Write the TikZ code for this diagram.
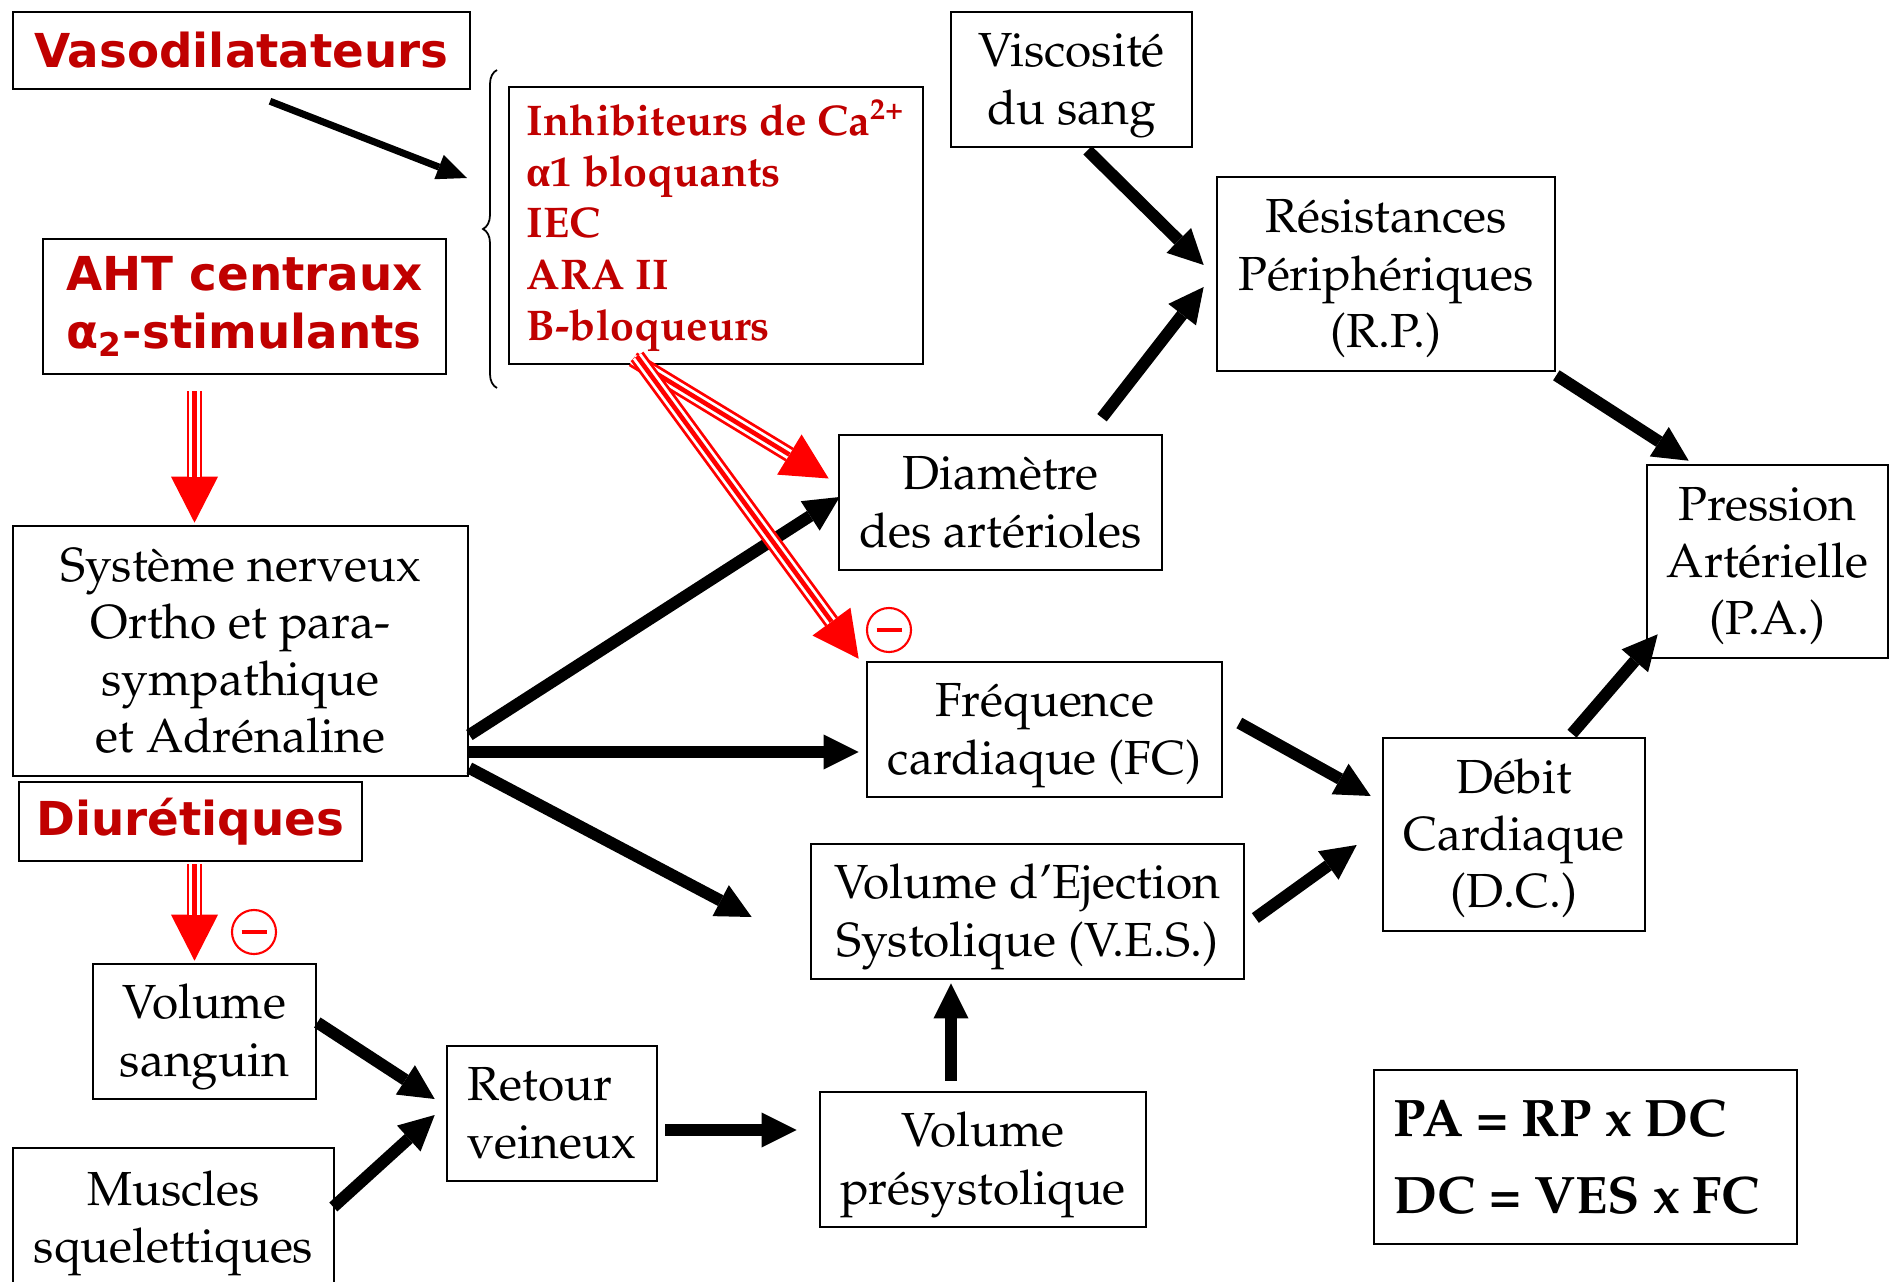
\documentclass[tikz,border=0pt]{standalone}
\usepackage[T1]{fontenc}
\usepackage[no-math]{fontspec}
\newfontfamily\drugfont{DejaVu Sans}
\newfontfamily\grkfont{Liberation Serif}
\usetikzlibrary{arrows.meta,calc,decorations.pathreplacing}
\definecolor{drugred}{RGB}{192,0,0}
\newcommand\palfont{\fontencoding{T1}\fontfamily{ppl}\selectfont}
% fixed first-line height and last-line depth, so the text sits at the same place in every box
\newcommand\boxlines[1]{\rule{0pt}{13.1pt}#1\rule[-4pt]{0pt}{4pt}}

\tikzset{
  box/.style={draw, line width=0.7pt, inner sep=0pt, align=center,
    font=\palfont\fontsize{13.6}{16.3}\selectfont},
  panel/.style={draw, line width=0.7pt, inner sep=0pt, align=left},
  drug/.style={draw, line width=0.7pt, inner sep=0pt, align=left, text=drugred,
    font=\drugfont\bfseries\fontsize{13.3}{16.5}\selectfont},
  flow/.style={line width=3.4pt, -{Triangle[length=0.35cm,width=0.35cm,line width=0pt]}},
  thinflow/.style={line width=2pt, -{Triangle[length=0.3cm,width=0.26cm,line width=0pt]}},
  block/.style={draw=red, line width=4.5pt, -{Triangle[length=0.46cm,width=0.47cm,line width=0pt]},
    postaction={draw=white, line width=2.9pt, -, shorten >=0.46cm},
    postaction={draw=red, line width=1.3pt, -, shorten >=0.46cm}},
  minuscircle/.style={circle, draw=red, line width=0.6pt, minimum size=0.44cm, inner sep=0pt,
    path picture={\draw[red, line width=0.9pt] ($(path picture bounding box.center)+(-12.5,0)$) -- ++(25,0);}}
}

\begin{document}
\begin{tikzpicture}[x=0.01cm, y=-0.01cm]
    \useasboundingbox (0,0) rectangle (1890,1282);

    % Left column
    \node[drug, minimum width=4.57cm, minimum height=0.77cm] (vaso) at (241.5,50.5) {Vasodilatateurs};
    \node[drug, minimum width=4.03cm, minimum height=1.35cm] (aht) at (244.5,306.5) {AHT centraux\\α\textsubscript{2}-stimulants};
    \node[box, minimum width=4.55cm, minimum height=2.5cm] (sys) at (240.5,651) {\boxlines{Système nerveux\\Ortho et para-\\sympathique\\et Adrénaline}};
    \node[drug, minimum width=3.43cm, minimum height=0.79cm] (diu) at (190.5,821.5) {Diurétiques};
    \node[box, minimum width=2.23cm, minimum height=1.35cm] (vsang) at (204.5,1031.5) {\boxlines{Volume\\sanguin}};
    \node[box, minimum width=3.21cm, minimum height=1.4cm] (musc) at (173.5,1218) {\boxlines{Muscles\\squelettiques}};

    % Drug list with brace
    \node[panel, text=drugred, font=\palfont\bfseries\fontsize{12.2}{14.6}\selectfont,
      minimum width=4.14cm, minimum height=2.77cm] (inh) at (716,225.5)
      {Inhibiteurs de Ca\textsuperscript{2+}\\{\grkfont α}1 bloquants\\IEC\\ARA II\\B-bloqueurs};
    \coordinate (bracetop) at (497,70);
    \coordinate (bracebot) at (497,388);
    \coordinate (vasotip) at (467,178);
    \draw[decorate, decoration={brace, amplitude=0.14cm}, line width=0.5pt] (bracebot) -- (bracetop);

    % Middle column
    \node[box, minimum width=2.1cm, minimum height=1.35cm, align=left] (ret) at (552,1113.5) {\boxlines{Retour\\veineux}};
    \node[box, minimum width=3.26cm, minimum height=1.35cm] (presys) at (983,1159.5) {\boxlines{Volume\\présystolique}};
    \node[box, minimum width=4.33cm, minimum height=1.35cm] (ves) at (1027.5,911.5) {\boxlines{Volume d'Ejection\\Systolique (V.E.S.)}};
    \node[box, minimum width=3.55cm, minimum height=1.35cm] (fc) at (1044.5,729.5) {\boxlines{Fréquence\\cardiaque (FC)}};
    \node[box, minimum width=3.23cm, minimum height=1.35cm] (dia) at (1000.5,502.5) {\boxlines{Diamètre\\des artérioles}};
    \node[box, minimum width=2.41cm, minimum height=1.35cm] (visc) at (1071.5,79.5) {\boxlines{Viscosité\\du sang}};

    % Right column
    \node[box, minimum width=3.38cm, minimum height=1.94cm] (rp) at (1386,274) {\boxlines{Résistances\\Périphériques\\(R.P.)}};
    \node[box, minimum width=2.41cm, minimum height=1.93cm] (pa) at (1767.5,561.5) {\boxlines{Pression\\Artérielle\\(P.A.)}};
    \node[box, minimum width=2.62cm, minimum height=1.93cm] (dc) at (1514,834.5) {\boxlines{Débit\\Cardiaque\\(D.C.)}};
    \node[panel, minimum width=4.23cm, minimum height=1.74cm,
      font=\palfont\bfseries\fontsize{15}{22}\selectfont] (formula) at (1585.5,1157) {PA = RP x DC\\DC = VES x FC\hspace*{0.17cm}};

    % Inhibition marks
    \node[minuscircle] (m1) at (254,932) {};
    \node[minuscircle] (m2) at (889,630) {};

    % Black arrows
    \draw[thinflow] ($(vaso.south)+(28.5,11)$) -- (vasotip);
    \draw[flow] ($(visc.south)+(16,2)$) -- ($(rp.west)+(-12,-9)$);
    \draw[flow] ($(dia.north)+(101.5,-16)$) -- ($(rp.west)+(-12,13)$);
    \draw[flow] ($(rp.south east)+(0,3)$) -- ($(pa.north west)+(43,-3)$);
    \draw[flow] ($(dc.north)+(58,-3)$) -- ($(pa.south west)+(12,-25)$);
    \draw[flow] ($(fc.east)+(16,-6.5)$) -- ($(dc.west)+(-11,-38.5)$);
    \draw[flow] ($(ves.east)+(10,6.5)$) -- ($(dc.west)+(-25,10.5)$);
    \draw[flow] ($(sys.east)+(0,84)$) -- ($(dia.west)+(2,-5.5)$);
    \draw[flow] ($(sys.east)+(0,101)$) -- ($(fc.west)+(-7,22.5)$);
    \draw[flow] ($(sys.east)+(0,117)$) -- ($(ves.west)+(-58,5.5)$);
    \draw[flow] ($(vsang.east)+(0,-9)$) -- ($(ret.west)+(-11,-14.5)$);
    \draw[flow] ($(musc.east)+(-2,-11)$) -- ($(ret.west)+(-11,1.5)$);
    \draw[flow] ($(ret.east)+(7,16.5)$) -- ($(presys.west)+(-22,-29.5)$);
    \draw[flow] ($(presys.north)+(-32,-10)$) -- ($(ves.south)+(-76.5,3)$);

    % Red drug arrows
    \draw[block] ($(aht.south)+(-50,16)$) -- ($(sys.north)+(-46,-2)$);
    \draw[block] ($(diu.south)+(4,2)$) -- ($(vsang.north)+(-10,-2)$);
    \draw[block] ($(inh.south)+(-83,-6)$) -- ($(dia.west)+(-9,-24)$);
    \draw[block] ($(inh.south)+(-79,-9)$) -- ($(fc.north west)+(-7,-2)$);

\end{tikzpicture}
\end{document}
